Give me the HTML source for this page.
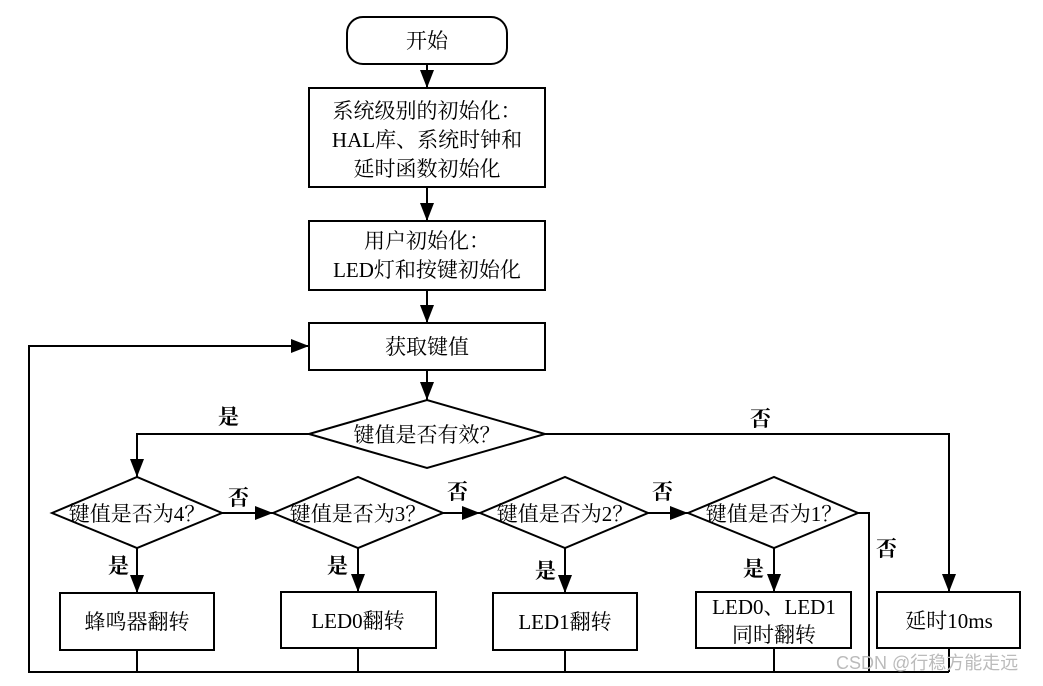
<!DOCTYPE html>
<html><head><meta charset="utf-8"><style>
html,body{margin:0;padding:0;background:#fff;}
svg text{font-family:"Liberation Serif","Noto Serif CJK SC",serif;font-size:21px;fill:#000;}
.b{font-family:"Liberation Sans","Noto Sans CJK SC",sans-serif;font-weight:bold;}
</style></head><body>
<svg width="1043" height="681" viewBox="0 0 1043 681" xmlns="http://www.w3.org/2000/svg">
<defs><marker id="a" markerWidth="18" markerHeight="14" refX="18" refY="7" orient="auto" markerUnits="userSpaceOnUse"><path d="M0,0 L18,7 L0,14 z" fill="#000"/></marker></defs>
<g fill="none" stroke="#000" stroke-width="2">
<rect x="347" y="17" width="160" height="47" rx="16"/>
<rect x="309" y="88" width="236" height="99"/>
<rect x="309" y="221" width="236" height="69"/>
<rect x="309" y="323" width="236" height="47"/>
<polygon points="309,434 427,400 545,434 427,468"/>
<polygon points="52,513 137,477 222,513 137,548"/>
<polygon points="273,513 358,477 443,513 358,548"/>
<polygon points="480,513 565,477 648,513 565,548"/>
<polygon points="688,513 774,477 858,513 774,548"/>
<rect x="60" y="593" width="154" height="57"/>
<rect x="281" y="592" width="155" height="56"/>
<rect x="493" y="593" width="144" height="57"/>
<rect x="696" y="592" width="155" height="56"/>
<rect x="877" y="592" width="143" height="56"/>
<line x1="427" y1="64" x2="427" y2="88" marker-end="url(#a)"/>
<line x1="427" y1="187" x2="427" y2="221" marker-end="url(#a)"/>
<line x1="427" y1="290" x2="427" y2="323" marker-end="url(#a)"/>
<line x1="427" y1="370" x2="427" y2="400" marker-end="url(#a)"/>
<polyline points="309,434 137,434 137,477" marker-end="url(#a)"/>
<polyline points="545,434 949,434 949,592" marker-end="url(#a)"/>
<line x1="222" y1="513" x2="273" y2="513" marker-end="url(#a)"/>
<line x1="443" y1="513" x2="480" y2="513" marker-end="url(#a)"/>
<line x1="648" y1="513" x2="688" y2="513" marker-end="url(#a)"/>
<polyline points="858,513 869,513 869,672"/>
<line x1="137" y1="548" x2="137" y2="593" marker-end="url(#a)"/>
<line x1="358" y1="548" x2="358" y2="592" marker-end="url(#a)"/>
<line x1="565" y1="548" x2="565" y2="593" marker-end="url(#a)"/>
<line x1="774" y1="548" x2="774" y2="592" marker-end="url(#a)"/>
<line x1="137" y1="650" x2="137" y2="672"/>
<line x1="358" y1="648" x2="358" y2="672"/>
<line x1="565" y1="650" x2="565" y2="672"/>
<line x1="774" y1="648" x2="774" y2="672"/>
<line x1="949" y1="648" x2="949" y2="672"/>
<polyline points="949,672 29,672 29,346 309,346" marker-end="url(#a)"/>
</g>
<g text-anchor="middle">
<text x="427" y="48">开始</text>
<text x="427" y="118">系统级别的初始化：</text>
<text x="427" y="147">HAL库、系统时钟和</text>
<text x="427" y="176">延时函数初始化</text>
<text x="427" y="248">用户初始化：</text>
<text x="427" y="277">LED灯和按键初始化</text>
<text x="427" y="354">获取键值</text>
<text x="427" y="442" font-size="20">键值是否有效？</text>
<text x="137" y="521" font-size="20">键值是否为4？</text>
<text x="358" y="521" font-size="20">键值是否为3？</text>
<text x="565" y="521" font-size="20">键值是否为2？</text>
<text x="774" y="521" font-size="20">键值是否为1？</text>
<text x="137" y="629">蜂鸣器翻转</text>
<text x="358" y="628">LED0翻转</text>
<text x="565" y="629">LED1翻转</text>
<text x="774" y="614">LED0、LED1</text>
<text x="774" y="642">同时翻转</text>
<text x="949" y="628">延时10ms</text>
</g>
<g class="b">
<text x="218" y="424">是</text>
<text x="750" y="426">否</text>
<text x="228" y="505">否</text>
<text x="447" y="499">否</text>
<text x="652" y="499">否</text>
<text x="876" y="556">否</text>
<text x="108" y="573">是</text>
<text x="327" y="573">是</text>
<text x="535" y="578">是</text>
<text x="743" y="576">是</text>
</g>
<text x="836" y="669" style="font-family:'Liberation Sans','Noto Sans CJK SC',sans-serif;font-size:18px;fill:#bbb">CSDN @行稳方能走远</text>
</svg>
</body></html>
